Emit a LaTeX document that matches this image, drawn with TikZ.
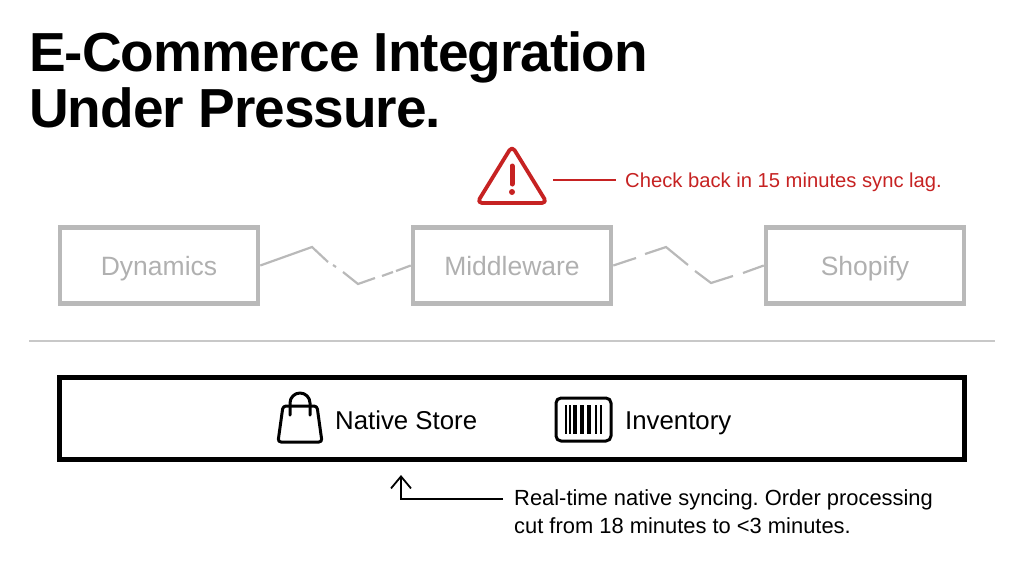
\documentclass[tikz,border=0pt]{standalone}
\usepackage{fontspec}
\setmainfont{Liberation Sans}
\usepackage{xcolor}
\usetikzlibrary{arrows.meta, positioning}
\definecolor{alertred}{HTML}{C62222}
\definecolor{fadegray}{HTML}{B9B9B9}
\definecolor{fadetext}{HTML}{B0B0B0}
\definecolor{rulegray}{HTML}{C8C8C8}
\newfontfamily\titlefont[LetterSpace=-1.8]{Liberation Sans}

\begin{document}
\frenchspacing
\begin{tikzpicture}[
    x=1pt, y=-1pt,
    fadebox/.style={draw=fadegray, line width=4.5pt, minimum width=198pt, minimum height=76pt, inner sep=0pt, text=fadetext, text height=24pt, text depth=5pt, font=\fontsize{26.5}{30}\selectfont},
    fadeline/.style={draw=fadegray, line width=2.2pt},
    label/.style={inner sep=0pt, anchor=base west, font=\fontsize{25.8}{30}\selectfont},
    note/.style={inner sep=0pt, anchor=west, align=left, font=\fontsize{21.9}{28}\selectfont},
    icon/.style={line width=3pt, line join=round, line cap=round}
]
\useasboundingbox (0,0) rectangle (1024,571);

% --- Title ---
\node[inner sep=0pt, anchor=north west, align=left, font=\titlefont\fontsize{55}{56}\bfseries\selectfont] (title) at (29,31) {E-Commerce Integration\\Under Pressure.};

% --- Warning ---
\draw[alertred, line width=3.8pt, line join=round, rounded corners=5pt] (512,146) -- (547,203) -- (477,203) -- cycle;
\draw[alertred, line width=5pt, line cap=round] (512,166) -- (512,184);
\fill[alertred] (512,192) circle (3pt);
\coordinate (warn) at (553,180);
\node[inner sep=0pt, anchor=base west, text=alertred, font=\fontsize{20.2}{24}\selectfont] (lag) at (625,187) {Check back in 15 minutes sync lag.};
\draw[alertred, line width=1.8pt] (warn) -- ++(63,0);

% --- Faded blocks ---
\node[fadebox] (dyn) at (159,265.5) {Dynamics};
\node[fadebox, right=150.5pt of dyn] (mid) {Middleware};
\node[fadebox, right=150.5pt of mid] (shop) {Shopify};

% --- Broken links ---
\draw[fadeline] (dyn.east) -- (312,247) -- (328,262);
\draw[fadeline] (333,265) -- (336,267);
\draw[fadeline] (343,272) -- (358,284) -- (375,278);
\draw[fadeline] (382,276) -- (393,272);
\draw[fadeline] (396,271) -- (mid.west);
\draw[fadeline] (mid.east) -- (636,258);
\draw[fadeline] (645,254) -- (666,247) -- (688,265);
\draw[fadeline] (695,271) -- (711,283) -- (733,276);
\draw[fadeline] (743,273) -- (shop.west);

% --- Divider ---
\coordinate (ruleL) at (29,341);
\coordinate (ruleR) at (995,341);
\draw[rulegray, line width=1.8pt] (ruleL) -- (ruleR);

% --- Native block ---
\node[draw, line width=5pt, minimum width=905pt, minimum height=82pt, inner sep=0pt] (native) at (512,418.5) {};
\node[label] (store) at (335,429) {Native Store};
\node[label] (inv) at (625,429) {Inventory};

% bag icon
\draw[icon, rounded corners=3pt] (283,406) -- (317,406) -- (322,442) -- (278,442) -- cycle;
\draw[icon] (290,415) -- (290,403) arc[start angle=180, end angle=0, radius=10pt] -- (310,415);

% barcode icon
\draw[icon, rounded corners=5pt] (556,398) rectangle (611,441);
\foreach \barx/\barw in {565.5/2, 570/2, 575/3.5, 582/3.5, 589/3.5, 595.5/2, 601/2}
    \draw[line width=\barw pt] (\barx,405) -- (\barx,434);

% --- Note ---
\node[note] (realtime) at (514,512) {Real-time native syncing. Order processing\\cut from 18 minutes to <3 minutes.};
\coordinate (tip) at (401,475);
\draw[-{Straight Barb[length=12pt, width=20pt]}, line width=1.8pt] (503,499) -- (401,499) -- (tip);

\end{tikzpicture}
\end{document}
